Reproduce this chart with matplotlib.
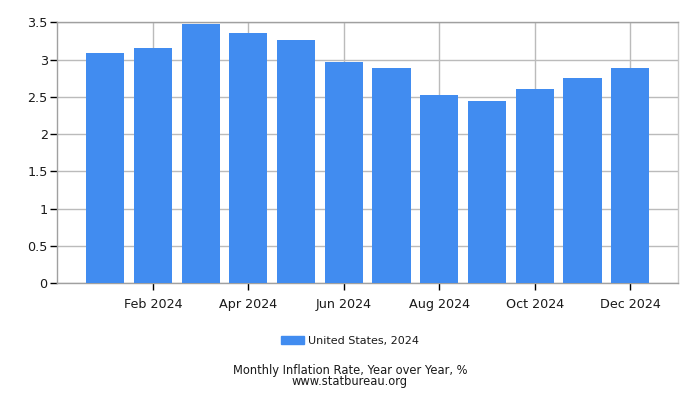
import matplotlib
matplotlib.use("Agg")
import matplotlib.pyplot as plt
from matplotlib.patches import Patch

months = ["Jan 2024", "Feb 2024", "Mar 2024", "Apr 2024", "May 2024", "Jun 2024",
          "Jul 2024", "Aug 2024", "Sep 2024", "Oct 2024", "Nov 2024", "Dec 2024"]
values = [3.09, 3.15, 3.48, 3.36, 3.27, 2.97, 2.89, 2.53, 2.44, 2.60, 2.75, 2.89]
series_label = "United States, 2024"
yticks = [0, 0.5, 1, 1.5, 2, 2.5, 3, 3.5]
ytick_labels = ["0", "0.5", "1", "1.5", "2", "2.5", "3", "3.5"]

bar_color = "#418cf0"
text_color = "#1a1a1a"

fig = plt.figure(figsize=(7, 4), dpi=100)
ax = fig.add_axes([0.082, 0.2925, 0.8866, 0.6515])

x = list(range(len(months)))
ax.bar(x, values, width=0.8, color=bar_color, zorder=3)

ax.set_xlim(-1, 12)
ax.set_ylim(0, 3.5)
tick_idx = [1, 3, 5, 7, 9, 11]
ax.set_xticks(tick_idx)
ax.set_xticklabels([months[i] for i in tick_idx], fontsize=9.2, color=text_color)
ax.set_yticks(yticks)
ax.set_yticklabels(ytick_labels, fontsize=9.2, color=text_color)
ax.tick_params(axis="both", direction="out", length=5, width=1, color="black")
ax.tick_params(axis="x", pad=6)
ax.tick_params(axis="y", pad=2)

ax.grid(True, color="#bbbbbb", linewidth=1, zorder=0)
for s in ["left", "bottom", "top"]:
    ax.spines[s].set_color("#a0a0a0")
    ax.spines[s].set_linewidth(1)
ax.spines["right"].set_color("#c8c8c8")
ax.spines["right"].set_linewidth(1)

fig.legend(handles=[Patch(color=bar_color, label=series_label)],
           loc="center", bbox_to_anchor=(0.5, 0.1475), frameon=False,
           fontsize=8, handlelength=2.0, handleheight=0.8, handletextpad=0.35,
           labelcolor=text_color)

fig.text(0.5, 0.06, "Monthly Inflation Rate, Year over Year, %\nwww.statbureau.org",
         ha="center", va="center", fontsize=8.3, color=text_color, linespacing=0.85)

fig.savefig("out.png", dpi=100, facecolor="white")
